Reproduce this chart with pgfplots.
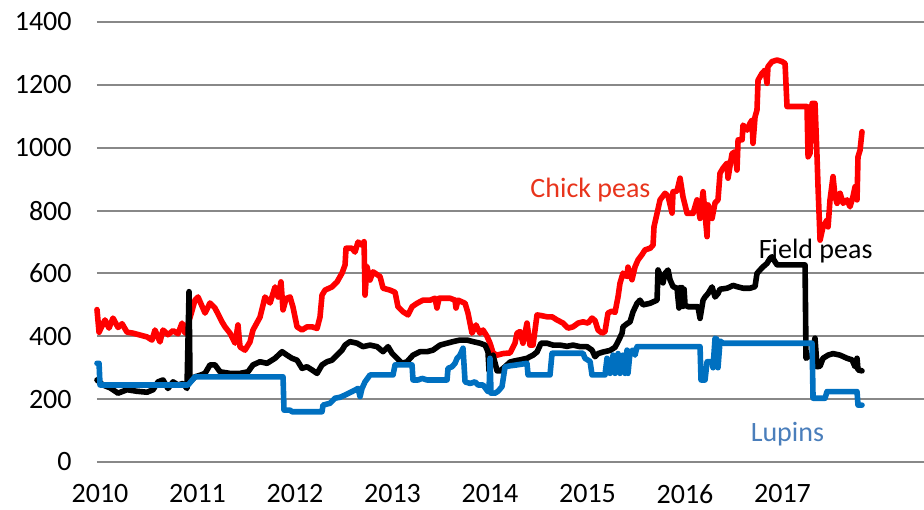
\documentclass[border=0pt]{standalone}
\usepackage{fontspec}
\setmainfont{Carlito}
\usepackage{pgfplots}
\pgfplotsset{compat=1.18}
\definecolor{chickred}{HTML}{FF0000}
\definecolor{lupinblue}{HTML}{0070C0}
\definecolor{chicklabel}{HTML}{E8341C}
\definecolor{lupinlabel}{HTML}{4A7EBB}
\definecolor{gridgray}{HTML}{888888}

\begin{document}
\begin{tikzpicture}
\begin{axis}[
    name=ax,
    scale only axis,
    width=413.5pt, height=220pt,
    xmin=2009.969, xmax=2018.451,
    ymin=0, ymax=1400,
    xtick={2010,2011,2012,2013,2014,2015,2016,2017},
    ytick={0,200,400,600,800,1000,1200,1400},
    xticklabel style={/pgf/number format/1000 sep={}},
    /pgf/number format/assume math mode=true,
    ymajorgrids,
    major grid style={gridgray, line width=1pt},
    axis line style={draw=none},
    major tick length=0pt,
    tick label style={font=\fontsize{14}{16}\selectfont, inner sep=0pt},
    yticklabel style={xshift=-12.5pt, /pgf/number format/1000 sep={}},
    xticklabel style={yshift=-11pt},
    clip=false,
    every axis plot/.append style={line width=2.8pt, line join=round, line cap=round},
]
% Chick peas
\addplot[chickred] coordinates {
(2009.969,485) (2009.990,413) (2010.051,452) (2010.092,426) (2010.133,458) (2010.185,428) (2010.226,440) (2010.277,413) (2010.338,410) (2010.410,404) (2010.482,398) (2010.533,388) (2010.564,420) (2010.615,382) (2010.646,420) (2010.697,405) (2010.749,418) (2010.800,408) (2010.841,442) (2010.872,410) (2010.903,440) (2010.933,470) (2010.974,515) (2011.005,525) (2011.077,474) (2011.128,506) (2011.179,490) (2011.251,446) (2011.282,430) (2011.333,410) (2011.385,378) (2011.415,436) (2011.436,366) (2011.487,356) (2011.538,382) (2011.569,420) (2011.641,461) (2011.692,525) (2011.744,506) (2011.795,557) (2011.826,525) (2011.856,573) (2011.877,484) (2011.908,520) (2011.949,525) (2011.979,493) (2012.021,430) (2012.072,420) (2012.123,430) (2012.174,430) (2012.226,425) (2012.256,461) (2012.277,531) (2012.308,547) (2012.379,557) (2012.431,573) (2012.482,601) (2012.513,627) (2012.523,680) (2012.585,680) (2012.615,668) (2012.646,700) (2012.687,690) (2012.708,701) (2012.718,531) (2012.738,621) (2012.769,579) (2012.800,605) (2012.872,590) (2012.903,553) (2012.974,547) (2013.026,540) (2013.056,494) (2013.108,478) (2013.159,468) (2013.200,494) (2013.251,505) (2013.313,515) (2013.385,515) (2013.436,521) (2013.456,490) (2013.477,521) (2013.590,521) (2013.641,515) (2013.651,490) (2013.672,515) (2013.744,505) (2013.774,474) (2013.815,410) (2013.856,436) (2013.897,410) (2013.928,420) (2013.969,400) (2014.000,378) (2014.031,347) (2014.072,340) (2014.133,345) (2014.205,347) (2014.256,378) (2014.277,410) (2014.308,415) (2014.338,378) (2014.379,442) (2014.410,372) (2014.441,372) (2014.482,468) (2014.523,466) (2014.585,462) (2014.636,462) (2014.687,452) (2014.749,442) (2014.800,426) (2014.851,430) (2014.903,442) (2014.954,446) (2015.005,442) (2015.046,458) (2015.077,450) (2015.108,420) (2015.149,410) (2015.179,415) (2015.210,474) (2015.251,480) (2015.282,476) (2015.313,526) (2015.333,569) (2015.364,601) (2015.405,590) (2015.415,620) (2015.456,580) (2015.487,621) (2015.518,643) (2015.559,660) (2015.590,675) (2015.641,680) (2015.672,690) (2015.682,749) (2015.713,791) (2015.744,834) (2015.795,855) (2015.826,846) (2015.867,792) (2015.877,860) (2015.918,862) (2015.949,903) (2015.979,844) (2016.021,791) (2016.082,791) (2016.123,834) (2016.154,775) (2016.185,860) (2016.226,717) (2016.236,818) (2016.277,775) (2016.308,825) (2016.338,834) (2016.359,919) (2016.390,935) (2016.431,951) (2016.441,903) (2016.482,981) (2016.513,987) (2016.533,929) (2016.544,1025) (2016.585,1025) (2016.595,1072) (2016.636,1056) (2016.667,1078) (2016.687,1088) (2016.697,1014) (2016.718,1098) (2016.738,1120) (2016.749,1215) (2016.790,1237) (2016.821,1247) (2016.841,1205) (2016.851,1258) (2016.892,1274) (2016.944,1279) (2016.995,1274) (2017.026,1268) (2017.046,1131) (2017.251,1131) (2017.262,971) (2017.282,982) (2017.303,1141) (2017.333,1141) (2017.354,970) (2017.364,876) (2017.385,706) (2017.415,748) (2017.456,770) (2017.467,748) (2017.487,834) (2017.518,908) (2017.538,845) (2017.559,823) (2017.590,855) (2017.621,823) (2017.662,834) (2017.692,812) (2017.723,845) (2017.744,876) (2017.764,834) (2017.774,971) (2017.795,992) (2017.815,1051)
};
% Field peas
\addplot[black] coordinates {
(2009.969,261) (2010.031,245) (2010.103,236) (2010.185,219) (2010.277,230) (2010.379,225) (2010.482,222) (2010.544,230) (2010.595,255) (2010.646,261) (2010.697,234) (2010.749,255) (2010.800,245) (2010.851,250) (2010.892,234) (2010.913,542) (2010.923,255) (2010.974,271) (2011.026,276) (2011.077,282) (2011.128,309) (2011.179,309) (2011.231,287) (2011.333,282) (2011.436,282) (2011.518,287) (2011.569,309) (2011.641,319) (2011.713,314) (2011.764,324) (2011.795,330) (2011.867,351) (2011.918,340) (2011.969,330) (2012.021,324) (2012.072,298) (2012.123,303) (2012.174,293) (2012.226,282) (2012.277,309) (2012.328,319) (2012.379,324) (2012.431,340) (2012.482,356) (2012.513,372) (2012.564,383) (2012.636,378) (2012.697,367) (2012.769,372) (2012.841,367) (2012.903,351) (2012.954,367) (2012.995,346) (2013.046,330) (2013.097,314) (2013.149,319) (2013.210,340) (2013.282,351) (2013.354,351) (2013.415,356) (2013.487,372) (2013.559,378) (2013.621,383) (2013.692,388) (2013.764,388) (2013.826,383) (2013.897,378) (2013.949,372) (2013.979,351) (2013.990,290) (2014.031,340) (2014.072,290) (2014.103,290) (2014.154,303) (2014.205,318) (2014.256,322) (2014.308,325) (2014.379,330) (2014.441,340) (2014.482,350) (2014.523,378) (2014.585,378) (2014.646,372) (2014.718,372) (2014.790,368) (2014.851,372) (2014.923,367) (2014.995,367) (2015.046,356) (2015.077,335) (2015.108,345) (2015.159,350) (2015.231,355) (2015.282,365) (2015.313,383) (2015.354,410) (2015.364,430) (2015.405,440) (2015.436,446) (2015.467,478) (2015.508,505) (2015.538,515) (2015.569,500) (2015.641,505) (2015.713,515) (2015.723,611) (2015.764,580) (2015.774,570) (2015.795,600) (2015.826,611) (2015.846,580) (2015.877,558) (2015.918,553) (2015.938,490) (2015.949,555) (2015.959,495) (2015.969,555) (2015.979,495) (2015.990,550) (2016.000,500) (2016.031,494) (2016.082,494) (2016.133,494) (2016.154,457) (2016.185,515) (2016.205,525) (2016.236,536) (2016.277,557) (2016.308,525) (2016.338,536) (2016.359,550) (2016.390,551) (2016.431,553) (2016.462,557) (2016.492,562) (2016.533,558) (2016.595,553) (2016.667,553) (2016.718,558) (2016.738,600) (2016.769,611) (2016.800,621) (2016.841,632) (2016.872,648) (2016.892,653) (2016.923,637) (2016.944,627) (2017.231,627) (2017.241,330) (2017.262,335) (2017.303,340) (2017.333,394) (2017.354,303) (2017.385,305) (2017.415,330) (2017.467,340) (2017.518,345) (2017.590,340) (2017.662,330) (2017.713,325) (2017.744,303) (2017.764,330) (2017.774,293) (2017.815,290)
};
% Lupins
\addplot[lupinblue] coordinates {
(2009.969,314) (2009.990,314) (2010.000,245) (2010.903,245) (2010.974,271) (2011.877,271) (2011.887,165) (2011.949,165) (2011.969,160) (2012.277,160) (2012.287,181) (2012.359,187) (2012.410,203) (2012.462,206) (2012.513,213) (2012.544,218) (2012.585,224) (2012.615,229) (2012.646,234) (2012.667,208) (2012.687,234) (2012.718,255) (2012.769,277) (2013.005,277) (2013.026,309) (2013.200,309) (2013.210,261) (2013.262,261) (2013.303,266) (2013.354,261) (2013.559,261) (2013.569,298) (2013.610,303) (2013.641,314) (2013.662,330) (2013.692,340) (2013.723,362) (2013.744,255) (2013.795,250) (2013.846,255) (2013.877,245) (2013.928,245) (2013.979,224) (2013.990,230) (2014.000,330) (2014.010,219) (2014.051,219) (2014.082,225) (2014.123,240) (2014.154,303) (2014.205,306) (2014.277,309) (2014.379,314) (2014.390,277) (2014.615,277) (2014.636,346) (2014.954,346) (2014.974,330) (2015.026,320) (2015.046,277) (2015.179,277) (2015.200,330) (2015.231,282) (2015.262,340) (2015.282,282) (2015.313,345) (2015.333,282) (2015.364,340) (2015.385,282) (2015.405,356) (2015.415,282) (2015.436,350) (2015.467,356) (2015.487,340) (2015.508,367) (2016.154,367) (2016.164,261) (2016.205,261) (2016.226,319) (2016.277,319) (2016.287,300) (2016.308,394) (2016.328,390) (2016.338,300) (2016.359,385) (2016.390,378) (2017.303,378) (2017.313,203) (2017.436,203) (2017.456,224) (2017.764,224) (2017.774,181) (2017.815,181)
};
\node[chicklabel, font=\fontsize{14}{16}\selectfont] at (axis cs:2015.03,865) {Chick peas};
\node[black, font=\fontsize{14}{16}\selectfont] at (axis cs:2017.34,671) {Field peas};
\node[lupinlabel, font=\fontsize{14}{16}\selectfont] at (axis cs:2017.05,89) {Lupins};
\end{axis}
\pgfresetboundingbox
\path[use as bounding box] ([xshift=-48.5pt,yshift=-23.5pt]ax.south west) rectangle ([yshift=11pt]ax.north east);
\end{tikzpicture}
\end{document}
